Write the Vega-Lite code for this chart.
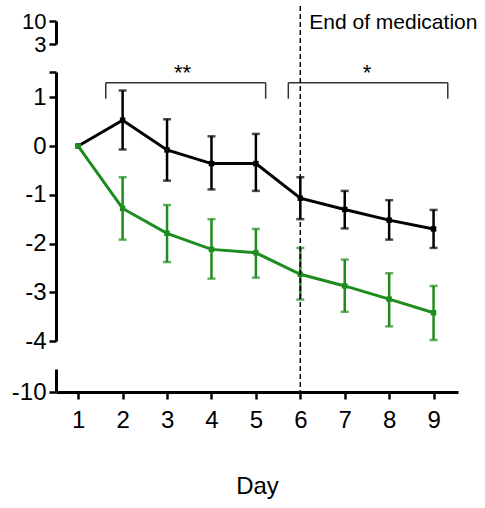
{
  "$schema": "https://vega.github.io/schema/vega-lite/v6.json",
  "padding": {"left": 11, "top": 5, "right": 5, "bottom": 5},
  "background": "white",
  "spacing": 28,
  "bounds": "flush",
  "config": {
    "view": {"stroke": null},
    "font": "Liberation Sans",
    "axis": {
      "domainColor": "black", "domainWidth": 3, "tickColor": "black", "tickWidth": 2.5, "tickSize": 7,
      "labelColor": "black", "labelFont": "Liberation Sans", "labelFontSize": 24,
      "grid": false, "labelOverlap": false, "labelFlush": false, "labelBound": false,
      "titleFont": "Liberation Sans", "titleFontSize": 24, "titleFontWeight": "normal", "titleColor": "black"
    }
  },
  "datasets": {
    "series": [
      {"day": 1, "group": "Control", "mean": 0, "lo": null, "hi": null},
      {"day": 2, "group": "Control", "mean": 0.53, "lo": -0.07, "hi": 1.14},
      {"day": 3, "group": "Control", "mean": -0.08, "lo": -0.71, "hi": 0.55},
      {"day": 4, "group": "Control", "mean": -0.36, "lo": -0.89, "hi": 0.2},
      {"day": 5, "group": "Control", "mean": -0.36, "lo": -0.92, "hi": 0.25},
      {"day": 6, "group": "Control", "mean": -1.07, "lo": -1.5, "hi": -0.64},
      {"day": 7, "group": "Control", "mean": -1.3, "lo": -1.69, "hi": -0.92},
      {"day": 8, "group": "Control", "mean": -1.52, "lo": -1.92, "hi": -1.11},
      {"day": 9, "group": "Control", "mean": -1.7, "lo": -2.09, "hi": -1.31},
      {"day": 1, "group": "Treatment", "mean": 0, "lo": null, "hi": null},
      {"day": 2, "group": "Treatment", "mean": -1.28, "lo": -1.92, "hi": -0.64},
      {"day": 3, "group": "Treatment", "mean": -1.79, "lo": -2.38, "hi": -1.21},
      {"day": 4, "group": "Treatment", "mean": -2.12, "lo": -2.72, "hi": -1.5},
      {"day": 5, "group": "Treatment", "mean": -2.19, "lo": -2.7, "hi": -1.7},
      {"day": 6, "group": "Treatment", "mean": -2.63, "lo": -3.15, "hi": -2.09},
      {"day": 7, "group": "Treatment", "mean": -2.87, "lo": -3.4, "hi": -2.33},
      {"day": 8, "group": "Treatment", "mean": -3.14, "lo": -3.7, "hi": -2.61},
      {"day": 9, "group": "Treatment", "mean": -3.42, "lo": -3.98, "hi": -2.87}
    ],
    "brackets": [
      {"from": 1.62, "to": 5.22, "mid": 3.35, "level": 1.3, "foot": 0.97, "label": "**"},
      {"from": 5.73, "to": 9.32, "mid": 7.5, "level": 1.3, "foot": 0.97, "label": "*"}
    ],
    "events": [
      {"day": 6, "label": "End of medication", "top": 2.875, "bottom": -5.05, "texty": 2.4}
    ]
  },
  "vconcat": [
    {
      "width": 402, "height": 23,
      "mark": {"type": "rule", "opacity": 0},
      "encoding": {
        "y": {"datum": 3, "type": "quantitative",
          "scale": {"domain": [3, 10], "nice": false, "zero": false},
          "axis": {"values": [3, 10], "title": null, "labelPadding": 3, "labelFontSize": 22, "labelExpr": "'' + datum.value"}}
      }
    },
    {
      "width": 402, "height": 269,
      "layer": [
        {
          "mark": {"type": "rule", "color": "#808080", "strokeDash": [2, 3], "strokeWidth": 1.5},
          "encoding": {
            "y": {"datum": 0, "type": "quantitative",
              "scale": {"domain": [-4, 1.52], "nice": false, "zero": false},
              "axis": {"values": [-4, -3, -2, -1, 0, 1, 1.52], "title": null, "labelPadding": 3,
                "labelExpr": "datum.value > 1.4 ? '' : '' + datum.value"}}
          }
        },
        {
          "data": {"name": "series"},
          "layer": [
            {"mark": {"type": "rule", "strokeWidth": 2.5},
             "encoding": {"y": {"field": "lo", "type": "quantitative"}, "y2": {"field": "hi"}}},
            {"mark": {"type": "tick", "orient": "horizontal", "size": 8, "thickness": 2.5},
             "encoding": {"y": {"field": "lo", "type": "quantitative"}}},
            {"mark": {"type": "tick", "orient": "horizontal", "size": 8, "thickness": 2.5},
             "encoding": {"y": {"field": "hi", "type": "quantitative"}}},
            {"mark": {"type": "line", "strokeWidth": 3},
             "encoding": {"y": {"field": "mean", "type": "quantitative"}}},
            {"mark": {"type": "square", "size": 30, "opacity": 1},
             "encoding": {"y": {"field": "mean", "type": "quantitative"}}}
          ],
          "encoding": {
            "x": {"field": "day", "type": "quantitative", "scale": {"domain": [0.5, 9.55], "nice": false, "zero": false}, "axis": null},
            "color": {"field": "group", "type": "nominal", "scale": {"domain": ["Treatment", "Control"], "range": ["#1e8c1e", "#000000"]}, "legend": null}
          }
        },
        {
          "data": {"name": "brackets"},
          "layer": [
            {"mark": {"type": "rule", "color": "#333333", "strokeWidth": 1.5},
             "encoding": {"x": {"field": "from", "type": "quantitative"}, "x2": {"field": "to"}, "y": {"field": "level", "type": "quantitative"}}},
            {"mark": {"type": "rule", "color": "#333333", "strokeWidth": 1.5},
             "encoding": {"x": {"field": "from", "type": "quantitative"}, "y": {"field": "level", "type": "quantitative"}, "y2": {"field": "foot"}}},
            {"mark": {"type": "rule", "color": "#333333", "strokeWidth": 1.5},
             "encoding": {"x": {"field": "to", "type": "quantitative"}, "y": {"field": "level", "type": "quantitative"}, "y2": {"field": "foot"}}},
            {"mark": {"type": "text", "fontSize": 22, "baseline": "alphabetic", "align": "center", "dy": -3, "color": "black", "font": "Liberation Sans"},
             "encoding": {"x": {"field": "mid", "type": "quantitative"}, "y": {"field": "level", "type": "quantitative"}, "text": {"field": "label"}}}
          ]
        },
        {
          "data": {"name": "events"},
          "layer": [
            {"mark": {"type": "rule", "color": "black", "strokeWidth": 1.5, "strokeDash": [5, 3]},
             "encoding": {"x": {"field": "day", "type": "quantitative"}, "y": {"field": "top", "type": "quantitative"}, "y2": {"field": "bottom"}}},
            {"mark": {"type": "text", "fontSize": 21, "align": "left", "baseline": "alphabetic", "dx": 9, "color": "black", "font": "Liberation Sans"},
             "encoding": {"x": {"field": "day", "type": "quantitative"}, "y": {"field": "texty", "type": "quantitative"}, "text": {"field": "label"}}}
          ]
        }
      ]
    },
    {
      "width": 402, "height": 23,
      "data": {"name": "series"},
      "mark": {"type": "point", "opacity": 0, "clip": true},
      "encoding": {
        "x": {"field": "day", "type": "quantitative", "scale": {"domain": [0.5, 9.55], "nice": false, "zero": false},
          "axis": {"values": [1, 2, 3, 4, 5, 6, 7, 8, 9], "title": "Day", "labelPadding": 9, "titlePadding": 42}},
        "y": {"field": "mean", "type": "quantitative", "scale": {"domain": [-10, -9], "nice": false, "zero": false},
          "axis": {"values": [-10], "title": null, "labelPadding": 3, "labelExpr": "'' + datum.value"}}
      }
    }
  ]
}
